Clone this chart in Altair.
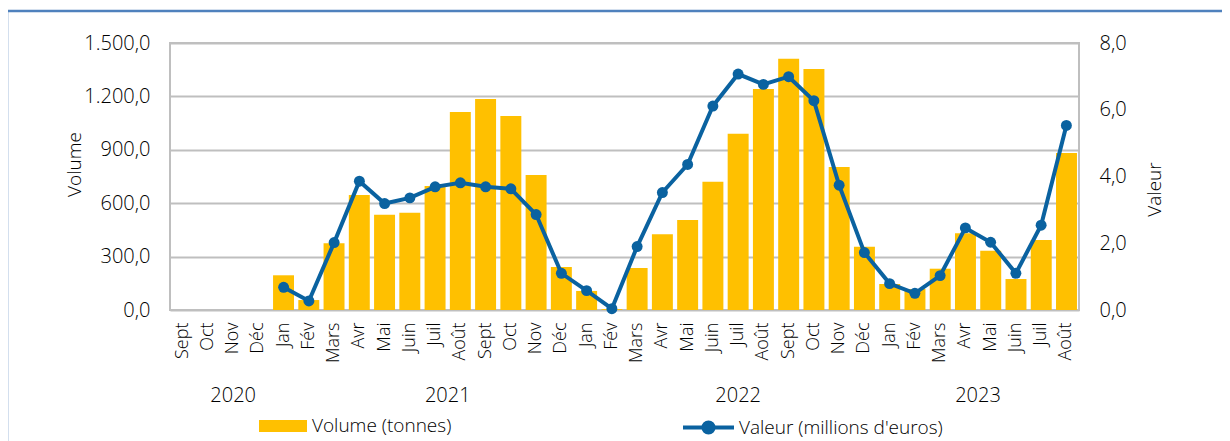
import altair as alt
import pandas as pd

months = ["Sept", "Oct", "Nov", "Déc", "Jan", "Fév", "Mars", "Avr", "Mai", "Juin", "Juil", "Août",
          "Sept", "Oct", "Nov", "Déc", "Jan", "Fév", "Mars", "Avr", "Mai", "Juin", "Juil", "Août",
          "Sept", "Oct", "Nov", "Déc", "Jan", "Fév", "Mars", "Avr", "Mai", "Juin", "Juil", "Août"]
month_years = (["2020"] * 4 + ["2021"] * 12 + ["2022"] * 12 + ["2023"] * 8)

volume = [0, 0, 0, 0, 195, 56, 375, 646, 535, 547, 697, 1112,
          1185, 1090, 758, 242, 107, 5, 236, 425, 506, 721, 990, 1242,
          1412, 1354, 803, 356, 146, 118, 232, 431, 333, 174, 393, 882]
valeur = [None, None, None, None, 0.68, 0.27, 2.02, 3.86, 3.19, 3.36, 3.69, 3.81,
          3.69, 3.63, 2.86, 1.10, 0.58, 0.04, 1.90, 3.52, 4.36, 6.11, 7.07, 6.76,
          6.99, 6.27, 3.74, 1.72, 0.79, 0.50, 1.03, 2.46, 2.03, 1.10, 2.54, 5.53]

year_labels = ["2020", "2021", "2022", "2023"]
year_pos = [2.5, 11.0, 22.5, 32.0]  # position along the 36-month axis

vol_ticks = [0, 300, 600, 900, 1200, 1500]
val_ticks = [0, 2, 4, 6, 8]

keys = [f"{m} {y}" for m, y in zip(months, month_years)]
df = pd.DataFrame({
    "key": keys,
    "volume": volume,
    "valeur": valeur,
    "s1": "Volume (tonnes)",
    "s2": "Valeur (millions d'euros)",
})
ydf = pd.DataFrame({"year": year_labels, "pos": year_pos})

FONT = "Open Sans"
BAR = "#FFC000"
LINE = "#0A62A0"
GRID = "#BFBFBF"

xscale = alt.Scale(paddingInner=0.17, paddingOuter=0.08)
x_main = alt.X("key:N", sort=keys, scale=xscale,
               axis=alt.Axis(title=None, labelAngle=270, labelExpr="split(datum.value, ' ')[0]",
                             labelFontSize=18, labelPadding=12, ticks=False, domain=False,
                             grid=False, labelColor="#000", labelFontWeight=300))
x_hidden = alt.X("key:N", sort=keys, scale=xscale, axis=None)

bars = alt.Chart(df).mark_bar(color=BAR).encode(
    x=x_main,
    y=alt.Y("volume:Q", scale=alt.Scale(domain=[0, 1500], nice=False),
            axis=alt.Axis(values=vol_ticks, format=",.1f", title="Volume", grid=True,
                          gridColor=GRID, gridWidth=2, domain=False, ticks=False,
                          labelPadding=20, labelFontSize=20, labelColor="#000",
                          labelFontWeight=300,
                          titleFontSize=19, titleFontWeight=300, titleColor="#000",
                          titleAngle=270, titleX=-96, titleY=121,
                          titleAlign="center", titleBaseline="middle")),
    fill=alt.Fill("s1:N", scale=alt.Scale(range=[BAR]),
                  legend=alt.Legend(orient="none", legendX=89, legendY=359, title=None,
                                    symbolType="M-1,-0.25L1,-0.25L1,0.25L-1,0.25Z",
                                    symbolSize=2304, symbolStrokeWidth=0,
                                    labelFontSize=19, labelOffset=5, labelColor="#000",
                                    labelFontWeight=300, labelLimit=400, padding=0)),
)

line = alt.Chart(df).mark_line(strokeWidth=4).encode(
    x=x_hidden,
    y=alt.Y("valeur:Q", scale=alt.Scale(domain=[0, 8], nice=False),
            axis=alt.Axis(orient="right", values=val_ticks, format=".1f", title="Valeur",
                          grid=False, domain=False, ticks=False, labelPadding=20,
                          labelFontSize=20, labelColor="#000", labelFontWeight=300,
                          titleFontSize=19, titleFontWeight=300, titleColor="#000",
                          titleAngle=270, titleX=75, titleY=146,
                          titleAlign="center", titleBaseline="middle")),
    stroke=alt.Stroke("s2:N", scale=alt.Scale(range=[LINE]),
                      legend=alt.Legend(orient="none", legendX=511, legendY=357, title=None,
                                        symbolType="M-1,0L1,0M0.2,0A0.2,0.2,0,1,1,-0.2,0A0.2,0.2,0,1,1,0.2,0Z",
                                        symbolSize=2601, symbolStrokeWidth=4,
                                        symbolFillColor=LINE,
                                        labelFontSize=19, labelOffset=3, labelColor="#000",
                                        labelFontWeight=300, labelLimit=400, padding=0)),
)

points = alt.Chart(df).mark_circle(size=120, opacity=1, color=LINE).encode(
    x=x_hidden,
    y=alt.Y("valeur:Q", scale=alt.Scale(domain=[0, 8], nice=False), axis=None),
)

years = alt.Chart(ydf).mark_text(fontSize=20, baseline="middle", align="center",
                                 color="#000", font=FONT, fontWeight=300).encode(
    x=alt.X("pos:Q", scale=alt.Scale(domain=[0, 36], nice=False, zero=False), axis=None),
    y=alt.value(353),
    text="year:N",
)

border = alt.Chart(alt.Data(values=[{"a": 1}])).mark_rect(
    fillOpacity=0, stroke="#4F81BD", strokeWidth=2.5).encode(
    x=alt.value(-163), x2=alt.value(1075), y=alt.value(-32), y2=alt.value(440),
)

chart = alt.layer(border, bars, line, points, years).resolve_scale(
    x="independent", y="independent", fill="independent", stroke="independent"
).properties(
    width=909, height=267,
    autosize=alt.AutoSizeParams(type="none"),
    padding={"left": 162, "top": 35, "right": 143, "bottom": 131},
).configure(
    locale={"number": {"decimal": ",", "thousands": ".", "grouping": [3], "currency": ["", " €"]}},
    font=FONT,
).configure_view(
    stroke=GRID, strokeWidth=2
).configure_axis(
    labelFont=FONT, titleFont=FONT
).configure_legend(
    labelFont=FONT
)

chart.save("out.html", embed_options={"renderer": "svg", "actions": False})
